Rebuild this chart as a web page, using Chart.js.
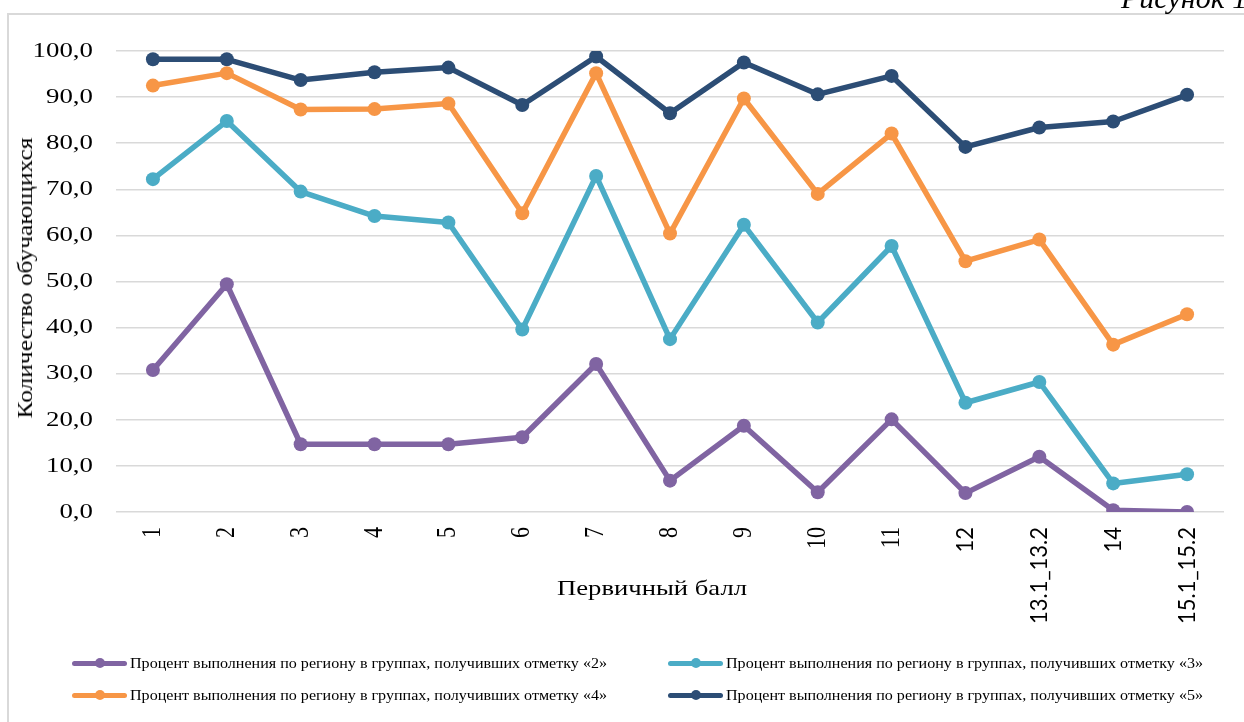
<!DOCTYPE html>
<html>
<head>
<meta charset="utf-8">
<script src="https://cdn.jsdelivr.net/npm/chart.js@4.4.1/dist/chart.umd.min.js"></script>
<style>
  html, body { margin: 0; padding: 0; background: #fff; overflow: hidden; }
  #wrap { position: relative; width: 1244px; height: 722px; overflow: hidden; background: #fff; }
  #frame { position: absolute; left: 7px; top: 13px; width: 1400px; height: 900px;
           border-left: 2px solid #d9d9d9; border-top: 2px solid #d9d9d9; }
  #chart { position: absolute; left: 0; top: 0; }
  .txt { position: absolute; font-family: "Liberation Serif", "Times New Roman", serif;
         color: #000; white-space: nowrap; line-height: 1; }
  .icon { position: absolute; width: 55px; height: 5px; border-radius: 2.5px; }
  .icon i { position: absolute; left: 22.5px; top: -2.5px; width: 10px; height: 10px; border-radius: 50%; background: inherit; }
</style>
</head>
<body>
<div id="wrap">
  <div id="frame"></div>
  <canvas id="chart" width="1244" height="722"></canvas>
  <div id="caption" class="txt" style="font-style: italic; font-size: 30px;"></div>
  <div id="ytitle" class="txt" style="font-size: 22px;"></div>
  <div id="xtitle" class="txt" style="font-size: 22px;"></div>
  <div id="legend"></div>
</div>
<script>
// Primary score categories (tasks)
const categories = ['1', '2', '3', '4', '5', '6', '7', '8', '9', '10', '11', '12', '13.1_13.2', '14', '15.1_15.2'];

// Completion percentage by group (mark received)
const pctMark2 = [30.8, 49.4, 14.7, 14.7, 14.7, 16.2, 32.1, 6.8, 18.7, 4.3, 20.1, 4.1, 12.0, 0.4, 0.0];
const pctMark3 = [72.2, 84.8, 69.5, 64.2, 62.8, 39.6, 72.9, 37.5, 62.3, 41.1, 57.7, 23.7, 28.2, 6.2, 8.2];
const pctMark4 = [92.5, 95.2, 87.3, 87.4, 88.6, 64.8, 95.2, 60.4, 89.7, 69.0, 82.1, 54.4, 59.1, 36.3, 42.9];
const pctMark5 = [98.2, 98.2, 93.7, 95.4, 96.4, 88.3, 98.8, 86.5, 97.5, 90.6, 94.6, 79.2, 83.4, 84.7, 90.5];

const seriesNames = [
  'Процент выполнения по региону в группах, получивших отметку «2»',
  'Процент выполнения по региону в группах, получивших отметку «3»',
  'Процент выполнения по региону в группах, получивших отметку «4»',
  'Процент выполнения по региону в группах, получивших отметку «5»'
];
const seriesColors = ['#8064A2', '#4BACC6', '#F79646', '#2C4D75'];

const yMin = 0, yMax = 100, yStep = 10;
const yAxisTitle = 'Количество обучающихся';
const xAxisTitle = 'Первичный балл';
const captionText = 'Рисунок 1';

const seriesValues = [pctMark2, pctMark3, pctMark4, pctMark5];

const serif = 'Liberation Serif';
const sans = 'Lato';

const fmtY = (v) => v.toFixed(1).replace('.', ',');

// Tick fonts: task numbers in serif, combined task codes in sans
function xTickFont(i) {
  return i >= 11 ? { family: sans, size: 22, sx: 1.05 } : { family: serif, size: 22, sx: 1.22 };
}

// Draws the tick labels along the scales with a slight horizontal widening
const wideTicks = {
  id: 'wideTicks',
  afterDraw(chart) {
    const ctx = chart.ctx;
    const ys = chart.scales.y, xs = chart.scales.x;
    ctx.save();
    ctx.fillStyle = '#000';
    ctx.textAlign = 'right';
    ctx.textBaseline = 'middle';
    ys.ticks.forEach((t) => {
      const py = ys.getPixelForValue(t.value);
      ctx.save();
      ctx.translate(ys.right - 23, py);
      ctx.scale(1.22, 1);
      ctx.font = '22px "' + serif + '"';
      ctx.fillText(fmtY(t.value), 0, 0);
      ctx.restore();
    });
    xs.ticks.forEach((t, i) => {
      const px = xs.getPixelForTick(i);
      const f = xTickFont(i);
      ctx.save();
      ctx.translate(px, xs.top + 15);
      ctx.scale(f.sx, 1);
      ctx.rotate(-Math.PI / 2);
      ctx.font = f.size + 'px "' + f.family + '"';
      ctx.fillText(xs.getLabelForValue(t.value), 0, 0);
      ctx.restore();
    });
    ctx.restore();
  }
};

const chart = new Chart(document.getElementById('chart'), {
  type: 'line',
  data: {
    labels: categories,
    datasets: seriesValues.map((vals, i) => ({
      label: seriesNames[i],
      data: vals,
      borderColor: seriesColors[i],
      backgroundColor: seriesColors[i],
      pointBackgroundColor: seriesColors[i],
      pointBorderColor: seriesColors[i],
      pointBorderWidth: 0,
      pointRadius: 7,
      borderWidth: 5.5,
      borderJoinStyle: 'round',
      borderCapStyle: 'round',
      tension: 0,
      fill: false
    }))
  },
  options: {
    responsive: false,
    animation: false,
    devicePixelRatio: 1,
    layout: { padding: { top: 51, right: 20, left: 0, bottom: 0 } },
    plugins: { legend: { display: false }, tooltip: { enabled: false } },
    scales: {
      x: {
        offset: true,
        grid: { display: false },
        border: { display: false },
        ticks: { display: false, autoSkip: false },
        afterFit: (s) => { s.height = 210; }
      },
      y: {
        min: yMin,
        max: yMax,
        ticks: { display: false, stepSize: yStep },
        grid: { color: '#d9d9d9', lineWidth: 1.5, drawTicks: false },
        border: { display: false },
        afterFit: (s) => { s.width = 116; }
      }
    }
  },
  plugins: [wideTicks]
});

// Stretch factor that brings a label to a given advance width
function stretchTo(el, width) {
  const w = el.getBoundingClientRect().width;
  return width / w;
}

// Caption at the top edge
const cap = document.getElementById('caption');
cap.textContent = captionText;
cap.style.left = '1121px';
cap.style.top = '-17px';

// Axis titles
const area = chart.chartArea;
const yt = document.getElementById('ytitle');
yt.textContent = yAxisTitle;
const ky = stretchTo(yt, 281);
yt.style.left = '25px';
yt.style.top = ((area.top + area.bottom) / 2 - 4) + 'px';
yt.style.transform = 'translate(-50%, -50%) rotate(-90deg) scaleX(' + ky + ')';

const xt = document.getElementById('xtitle');
xt.textContent = xAxisTitle;
const kx = stretchTo(xt, 190);
xt.style.left = '652px';
xt.style.top = '576.5px';
xt.style.transform = 'translateX(-50%) scaleX(' + kx + ')';

// Legend: two columns, two rows
const legend = document.getElementById('legend');
const colX = [72, 668];
const rowY = [663, 695];
chart.data.datasets.forEach((ds, i) => {
  const col = i % 2, row = Math.floor(i / 2);
  const icon = document.createElement('div');
  icon.className = 'icon';
  icon.style.background = ds.borderColor;
  icon.style.left = colX[col] + 'px';
  icon.style.top = (rowY[row] - 2.5) + 'px';
  icon.appendChild(document.createElement('i'));
  legend.appendChild(icon);

  const t = document.createElement('div');
  t.className = 'txt';
  t.style.fontSize = '15px';
  t.textContent = ds.label;
  legend.appendChild(t);
  const k = stretchTo(t, 477);
  t.style.left = (colX[col] + 58) + 'px';
  t.style.top = (rowY[row] - 7.3) + 'px';
  t.style.transformOrigin = '0 50%';
  t.style.transform = 'scaleX(' + k + ')';
});
</script>
</body>
</html>
